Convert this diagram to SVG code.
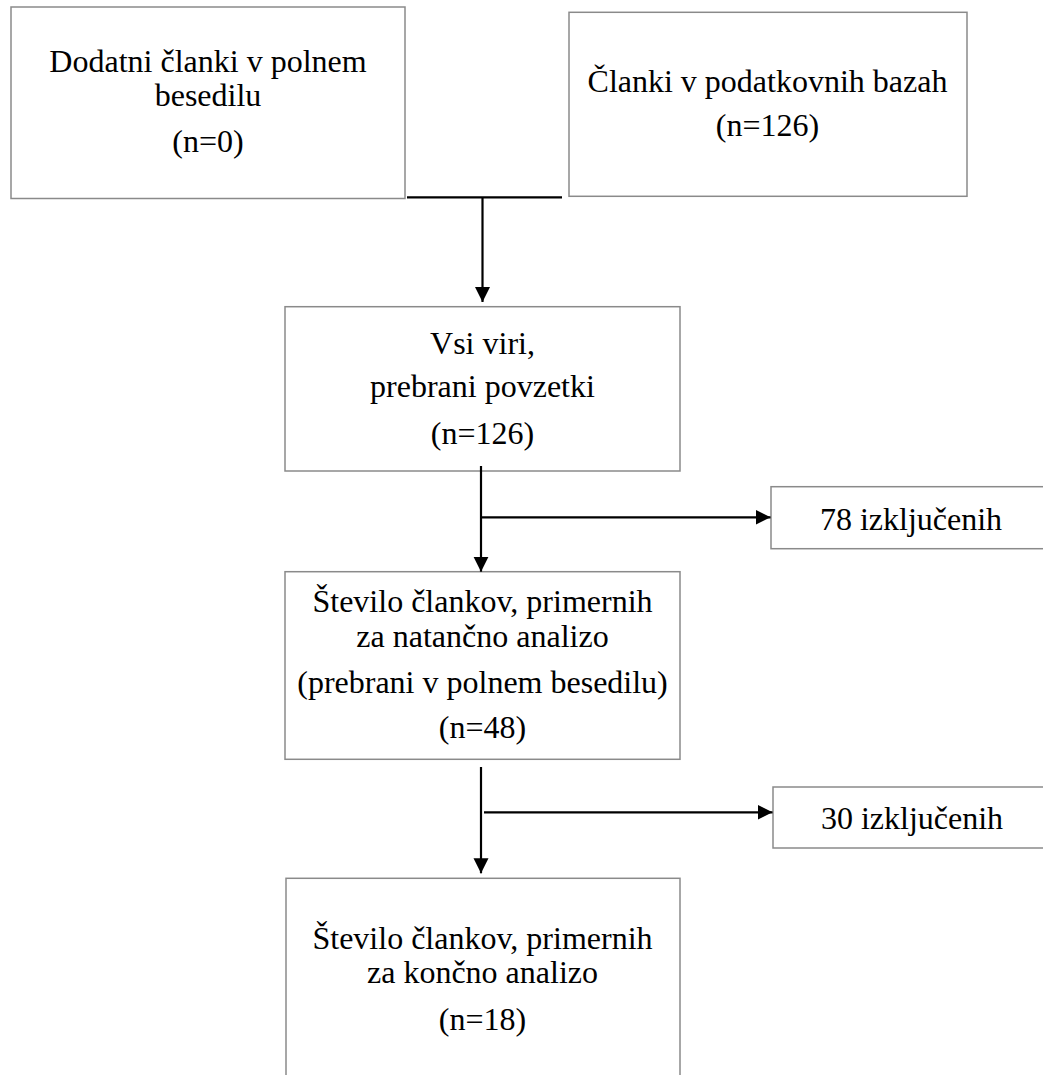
<svg xmlns="http://www.w3.org/2000/svg" width="1043" height="1075" viewBox="0 0 1043 1075">
<style>
.box{fill:#ffffff;stroke:#8a8a8a;stroke-width:1.5}
.t{font-family:"Liberation Serif","Times New Roman",serif;font-size:32px;fill:#000;text-anchor:middle}
.ln{fill:none;stroke:#000;stroke-width:2.2}
</style>
<defs>
<marker id="ah" markerUnits="userSpaceOnUse" markerWidth="16" markerHeight="16" refX="15" refY="7.5" orient="auto">
<path d="M0,0 L15,7.5 L0,15 Z" fill="#000"/>
</marker>
</defs>
<rect width="1043" height="1075" fill="#ffffff"/>
<g id="n1">
<rect class="box" x="11" y="7" width="394" height="191.5"/>
<text class="t" x="208" y="72">Dodatni članki v polnem</text>
<text class="t" x="208" y="106">besedilu</text>
<text class="t" x="208" y="152">(n=0)</text>
</g>
<g id="n2">
<rect class="box" x="569" y="12.3" width="398" height="184"/>
<text class="t" x="767.5" y="91.5">Članki v podatkovnih bazah</text>
<text class="t" x="767.5" y="135.5">(n=126)</text>
</g>
<g id="n3">
<rect class="box" x="285" y="306.7" width="395" height="164.3"/>
<text class="t" x="482.5" y="354">Vsi viri,</text>
<text class="t" x="482.5" y="397">prebrani povzetki</text>
<text class="t" x="482.5" y="444">(n=126)</text>
</g>
<g id="n4">
<rect class="box" x="285" y="571.7" width="395" height="187.6"/>
<text class="t" x="482.5" y="612">Število člankov, primernih</text>
<text class="t" x="482.5" y="646.5">za natančno analizo</text>
<text class="t" x="482.5" y="693">(prebrani v polnem besedilu)</text>
<text class="t" x="482.5" y="738">(n=48)</text>
</g>
<g id="n5">
<rect class="box" x="286" y="878.3" width="394" height="220"/>
<text class="t" x="482.5" y="949">Število člankov, primernih</text>
<text class="t" x="482.5" y="983">za končno analizo</text>
<text class="t" x="482.5" y="1030">(n=18)</text>
</g>
<g id="x1">
<rect class="box" x="771" y="486.7" width="300" height="62"/>
<text class="t" x="911" y="530">78 izključenih</text>
</g>
<g id="x2">
<rect class="box" x="773" y="787" width="300" height="61"/>
<text class="t" x="912" y="829">30 izključenih</text>
</g>
<g id="connectors">
<line class="ln" x1="407" y1="197.3" x2="562" y2="197.3"/>
<line class="ln" x1="482.5" y1="197.3" x2="482.5" y2="302" marker-end="url(#ah)"/>
<line class="ln" x1="481" y1="466" x2="481" y2="571.7" marker-end="url(#ah)"/>
<line class="ln" x1="481" y1="517.3" x2="770.5" y2="517.3" marker-end="url(#ah)"/>
<line class="ln" x1="481" y1="767" x2="481" y2="873.3" marker-end="url(#ah)"/>
<line class="ln" x1="484" y1="812.3" x2="772.5" y2="812.3" marker-end="url(#ah)"/>
</g>
</svg>
